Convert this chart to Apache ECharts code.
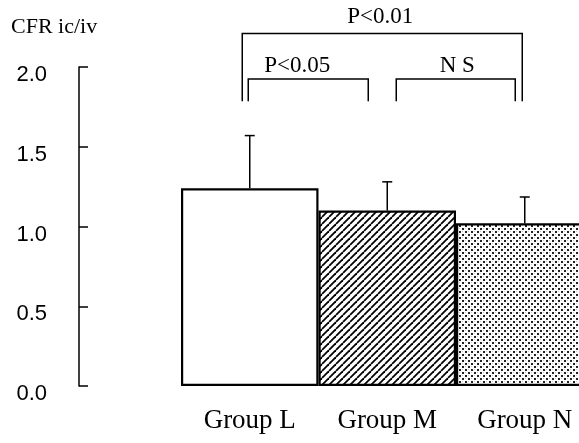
<!DOCTYPE html>
<html>
<head>
<meta charset="utf-8">
<script src="https://cdn.jsdelivr.net/npm/echarts@6/dist/echarts.min.js"></script>
<style>html,body{margin:0;padding:0;background:#fff;}#chart{width:579px;height:443px;}</style>
</head>
<body>
<div id="chart"></div>
<script>
const categories = ['Group L', 'Group M', 'Group N'];
const means = [1.24, 1.10, 1.02];
const sds = [0.33, 0.18, 0.165];
const yAxisTitle = 'CFR ic/iv';
const bracketLabels = ['P<0.01', 'P<0.05', 'N S'];
const bracketFrom = [0, 0, 1];
const bracketTo = [2, 1, 2];
const bracketTop = [2.21, 1.925, 1.925];
const bracketBottom = 1.786;

function hatchPattern() {
  const s = 7, c = document.createElement('canvas');
  c.width = s; c.height = s;
  const g = c.getContext('2d');
  g.fillStyle = '#fff'; g.fillRect(0, 0, s, s);
  g.strokeStyle = '#000'; g.lineWidth = 1.8;
  for (const k of [-s, 0, s]) { g.beginPath(); g.moveTo(k, s); g.lineTo(k + s, 0); g.stroke(); }
  return c;
}
function dotPattern() {
  const c = document.createElement('canvas');
  c.width = 6; c.height = 6;
  const g = c.getContext('2d');
  g.fillStyle = '#fff'; g.fillRect(0, 0, 6, 6);
  g.fillStyle = '#222';
  g.fillRect(0, 0, 2, 2); g.fillRect(3, 3, 2, 2);
  g.fillStyle = '#c8c8c8';
  g.fillRect(3, 0, 1, 1); g.fillRect(0, 3, 1, 1);
  return c;
}
const fills = ['#ffffff', { image: hatchPattern(), repeat: 'repeat' }, { image: dotPattern(), repeat: 'repeat' }];

const chart = echarts.init(document.getElementById('chart'), null, { renderer: 'canvas' });
const bracketStyle = [
  { dx1: -7.5, dx2: -2.5, tdx: -2, tdy: -17 },
  { dx1: -1.5, dx2: -19, tdx: -11, tdy: -13 },
  { dx1: 9, dx2: -9.5, tdx: 1.5, tdy: -13 }
];
chart.setOption({
  animation: false,
  title: {
    text: yAxisTitle, left: 6, top: 11,
    textStyle: { fontFamily: 'Liberation Serif', fontSize: 22, fontWeight: 'normal', color: '#000' }
  },
  grid: { left: 181, width: 412.5, top: 67, height: 319, containLabel: false, outerBoundsMode: 'none' },
  xAxis: {
    type: 'category', data: categories,
    axisLine: { show: false }, axisTick: { show: false },
    axisLabel: { margin: 21, fontFamily: 'Liberation Serif', fontSize: 27, color: '#000' }
  },
  yAxis: {
    type: 'value', min: 0, max: 2, interval: 0.5, offset: 102,
    splitLine: { show: false },
    axisLine: { show: true, lineStyle: { color: '#000', width: 1.5 } },
    axisTick: { show: true, inside: true, length: 9, lineStyle: { color: '#000', width: 1.5 } },
    axisLabel: { margin: 32, verticalAlign: 'top', lineHeight: 16, fontFamily: 'Liberation Sans', fontSize: 22, color: '#000',
      formatter: v => v.toFixed(1) }
  },
  series: [
    {
      type: 'custom', z: 1,
      data: means.map((m, i) => [i, m, m + sds[i]]),
      renderItem: (params, api) => {
        const p0 = api.coord([api.value(0), api.value(1)]);
        const p1 = api.coord([api.value(0), api.value(2)]);
        return { type: 'group', children: [
          { type: 'line', shape: { x1: p0[0], y1: p0[1], x2: p1[0], y2: p1[1] }, style: { stroke: '#000', lineWidth: 1.5 } },
          { type: 'line', shape: { x1: p1[0] - 5, y1: p1[1], x2: p1[0] + 5, y2: p1[1] }, style: { stroke: '#000', lineWidth: 1.5 } }
        ] };
      }
    },
    {
      type: 'bar', z: 2, barWidth: '100%', barCategoryGap: 0,
      data: means.map((m, i) => ({ value: m, itemStyle: { color: fills[i], borderColor: '#000', borderWidth: 2.2 } }))
    },
    {
      type: 'custom', z: 3, clip: false,
      data: bracketLabels.map((t, i) => [bracketFrom[i], bracketTo[i], bracketTop[i], bracketBottom]),
      renderItem: (params, api) => {
        const s = bracketStyle[params.dataIndex];
        const a = api.coord([api.value(0), api.value(2)]);
        const b = api.coord([api.value(1), api.value(2)]);
        const yb = api.coord([api.value(0), api.value(3)])[1];
        const x1 = a[0] + s.dx1, x2 = b[0] + s.dx2, yt = a[1];
        return { type: 'group', children: [
          { type: 'polyline', shape: { points: [[x1, yb], [x1, yt], [x2, yt], [x2, yb]] }, style: { stroke: '#000', lineWidth: 1.5, fill: null } },
          { type: 'text', style: { text: bracketLabels[params.dataIndex], x: (x1 + x2) / 2 + s.tdx, y: yt + s.tdy,
            align: 'center', verticalAlign: 'middle', font: '23px "Liberation Serif"', fill: '#000' } }
        ] };
      }
    }
  ]
});
</script>
</body>
</html>
